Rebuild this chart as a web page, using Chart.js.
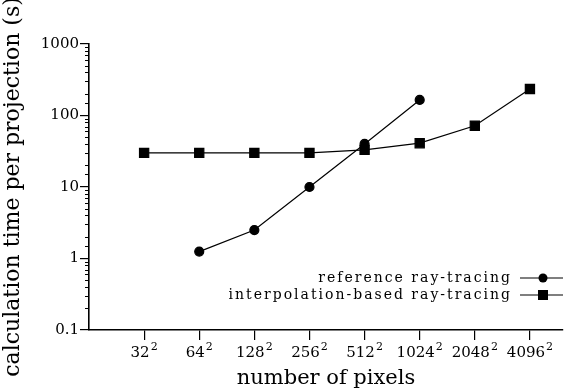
<!DOCTYPE html>
<html>
<head>
<meta charset="utf-8">
<script src="https://cdn.jsdelivr.net/npm/chart.js@4/dist/chart.umd.min.js"></script>
<style>
  html, body { margin: 0; padding: 0; background: #fff; }
  #wrap { width: 564px; height: 392px; }
</style>
</head>
<body>
<div id="wrap"><canvas id="chart"></canvas></div>
<script>
// image sizes (side length, shown squared on the axis)
var sizes = ['32', '64', '128', '256', '512', '1024', '2048', '4096'];
var sizeExponent = '2';
// calculation time per projection in seconds
var referenceTimes = [null, 1.25, 2.5, 10, 40, 165, null, null];
var interpTimes = [30, 30, 30, 30, 33, 41, 72, 235];
var seriesNames = ['reference ray-tracing', 'interpolation-based ray-tracing'];

var FONT = '"DejaVu Serif", "Liberation Serif", serif';

function toPoints(vals) {
  return vals.map(function (v, i) { return { x: i, y: v }; });
}
function isPow10(v) {
  var l = Math.log10(v);
  return Math.abs(l - Math.round(l)) < 1e-9;
}

// short minor ticks on the log axis
var minorTicks = {
  id: 'minorTicks',
  afterDraw: function (chart) {
    var s = chart.scales.y, ctx = chart.ctx;
    ctx.save();
    ctx.strokeStyle = '#000';
    ctx.lineWidth = 1;
    s.ticks.forEach(function (t) {
      if (isPow10(t.value)) return;
      var y = Math.round(s.getPixelForValue(t.value)) + 0.5;
      ctx.beginPath();
      ctx.moveTo(s.right - 4, y);
      ctx.lineTo(s.right, y);
      ctx.stroke();
    });
    ctx.restore();
  }
};

// x tick labels with a raised exponent (n^2)
var powerLabels = {
  id: 'powerLabels',
  afterDraw: function (chart) {
    var s = chart.scales.x, ctx = chart.ctx;
    var baseFont = '15px ' + FONT, supFont = '11px ' + FONT;
    ctx.save();
    ctx.fillStyle = '#000';
    ctx.textBaseline = 'alphabetic';
    ctx.textAlign = 'left';
    s.ticks.forEach(function (t) {
      var txt = sizes[t.value];
      ctx.font = baseFont;
      var wb = ctx.measureText(txt).width;
      ctx.font = supFont;
      var ws = ctx.measureText(sizeExponent).width;
      var x0 = s.getPixelForValue(t.value) - (wb + ws + 1) / 2;
      var yb = s.top + 27;
      ctx.font = baseFont;
      ctx.fillText(txt, x0, yb);
      ctx.font = supFont;
      ctx.fillText(sizeExponent, x0 + wb + 1, yb - 7);
    });
    ctx.restore();
  }
};

// legend drawn inside the plot, bottom right
var innerLegend = {
  id: 'innerLegend',
  afterDraw: function (chart) {
    var ctx = chart.ctx, area = chart.chartArea;
    ctx.save();
    ctx.font = '14px ' + FONT;
    ctx.letterSpacing = '2px';
    ctx.textAlign = 'right';
    ctx.textBaseline = 'middle';
    ctx.fillStyle = '#000';
    chart.data.datasets.forEach(function (ds, i) {
      var y = area.bottom - 52 + i * 17;
      ctx.fillText(ds.label, area.right - 51, y);
      ctx.beginPath();
      ctx.lineWidth = 1.2;
      ctx.moveTo(area.right - 43, y);
      ctx.lineTo(area.right, y);
      ctx.stroke();
      var cx = area.right - 20;
      if (ds.pointStyle === 'rect') {
        ctx.fillRect(cx - 5, y - 5, 10, 10);
      } else {
        ctx.beginPath();
        ctx.arc(cx, y, 4.5, 0, Math.PI * 2);
        ctx.fill();
      }
    });
    ctx.restore();
  }
};

new Chart(document.getElementById('chart'), {
  type: 'line',
  data: {
    datasets: [{
      label: seriesNames[0],
      data: toPoints(referenceTimes),
      borderColor: '#000',
      backgroundColor: '#000',
      borderWidth: 1.2,
      pointStyle: 'circle',
      pointRadius: 4.5,
      spanGaps: false
    }, {
      label: seriesNames[1],
      data: toPoints(interpTimes),
      borderColor: '#000',
      backgroundColor: '#000',
      borderWidth: 1.2,
      pointStyle: 'rect',
      pointRadius: 6.5
    }]
  },
  options: {
    responsive: true,
    maintainAspectRatio: false,
    animation: false,
    layout: { autoPadding: false, padding: { top: 44, right: 1, left: 0, bottom: 0 } },
    plugins: { legend: { display: false }, tooltip: { enabled: false } },
    scales: {
      x: {
        type: 'linear',
        min: -1,
        max: 7.6,
        afterBuildTicks: function (s) {
          s.ticks = sizes.map(function (_, i) { return { value: i }; });
        },
        afterFit: function (s) { s.height = 62; },
        ticks: { display: false },
        grid: { drawOnChartArea: false, tickLength: 10, color: '#000', lineWidth: 1.2 },
        border: { display: true, color: '#000', width: 1.6 },
        title: {
          display: true,
          text: 'number of pixels',
          color: '#000',
          font: { family: FONT, size: 21 },
          padding: { top: 0, bottom: 1 }
        }
      },
      y: {
        type: 'logarithmic',
        min: 0.1,
        max: 1000,
        afterFit: function (s) { s.width = 89; },
        ticks: {
          color: '#000',
          font: { family: FONT, size: 15 },
          padding: 1,
          autoSkip: false,
          callback: function (v) { return isPow10(v) ? String(+v.toPrecision(3)) : ''; }
        },
        grid: {
          drawOnChartArea: false,
          tickLength: 9,
          lineWidth: 1.2,
          color: function (c) { return c.tick && isPow10(c.tick.value) ? '#000' : 'rgba(0,0,0,0)'; }
        },
        border: { display: true, color: '#000', width: 1.6 },
        title: {
          display: true,
          text: 'calculation time per projection (s)',
          color: '#000',
          font: { family: FONT, size: 22 },
          padding: { top: 0, bottom: 1 }
        }
      }
    }
  },
  plugins: [minorTicks, powerLabels, innerLegend]
});
</script>
</body>
</html>
